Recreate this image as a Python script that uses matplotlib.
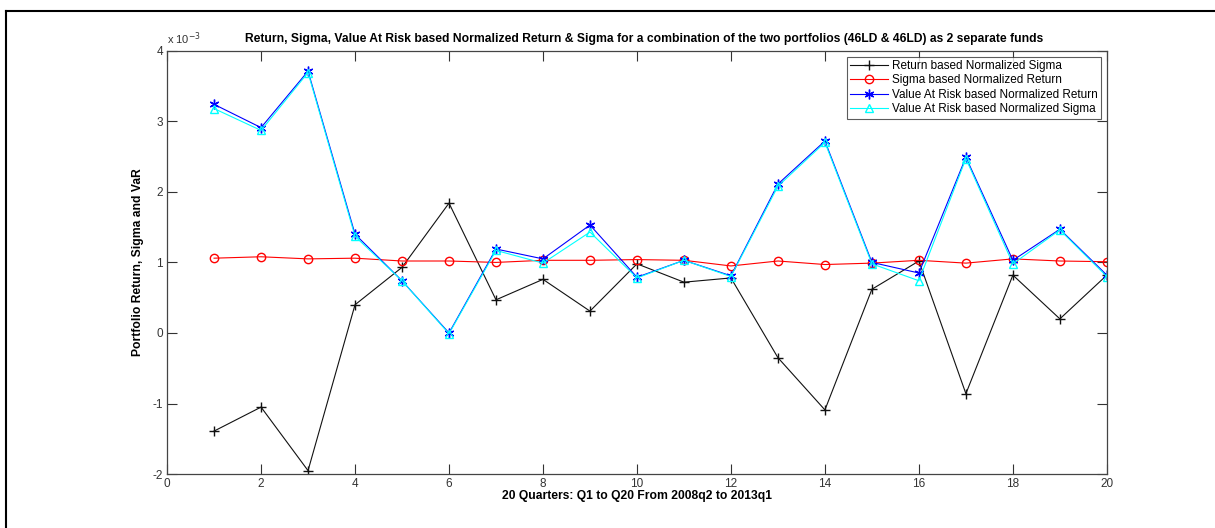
import numpy as np
import matplotlib.pyplot as plt
from matplotlib.lines import Line2D
from matplotlib.ticker import FuncFormatter

quarters = np.arange(1, 21)

# values in units of 1e-3
ret_norm_sigma = [-1.39, -1.05, -1.95, 0.40, 0.93, 1.84, 0.47, 0.76, 0.31, 0.98,
                  0.72, 0.78, -0.35, -1.09, 0.62, 1.02, -0.86, 0.82, 0.20, 0.82]
sigma_norm_ret = [1.06, 1.08, 1.05, 1.06, 1.02, 1.02, 1.00, 1.03, 1.03, 1.04,
                  1.03, 0.95, 1.02, 0.97, 0.99, 1.03, 0.99, 1.05, 1.02, 1.01]
var_norm_ret = [3.24, 2.91, 3.71, 1.40, 0.74, 0.00, 1.19, 1.05, 1.53, 0.79,
                1.03, 0.81, 2.11, 2.72, 1.00, 0.85, 2.49, 1.03, 1.47, 0.82]
var_norm_sigma = [3.18, 2.87, 3.69, 1.37, 0.74, -0.01, 1.17, 0.99, 1.43, 0.78,
                  1.03, 0.80, 2.08, 2.70, 0.98, 0.74, 2.47, 0.98, 1.46, 0.80]

plt.rcParams['font.family'] = ['Liberation Sans', 'DejaVu Sans']

fig = plt.figure(figsize=(12.15, 5.28), dpi=100)
ax = fig.add_axes([0.1375, 0.102, 0.7735, 0.802])

s = 1e-3
asterisk = (6, 2, 0)
ax.plot(quarters, np.array(ret_norm_sigma) * s, color='#111111', marker='+',
        markersize=7, linewidth=0.8, label='Return based Normalized Sigma')
ax.plot(quarters, np.array(sigma_norm_ret) * s, color='red', marker='o',
        markerfacecolor='none', markersize=6, linewidth=0.8,
        label='Sigma based Normalized Return')
ax.plot(quarters, np.array(var_norm_ret) * s, color='blue', marker=asterisk,
        markersize=7, markeredgewidth=1.0, linewidth=0.8,
        label='Value At Risk based Normalized Return')
ax.plot(quarters, np.array(var_norm_sigma) * s, color='cyan', marker='^',
        markerfacecolor='none', markersize=6, linewidth=0.8,
        label='Value At Risk based Normalized Sigma')

ax.set_xlim(0, 20)
ax.set_ylim(-2e-3, 4e-3)
ax.set_xticks(np.arange(0, 21, 2))
ax.set_yticks(np.arange(-2, 5) * s)
ax.yaxis.set_major_formatter(FuncFormatter(lambda v, p: '%g' % round(v * 1e3, 6)))
ax.tick_params(direction='in', length=7, width=0.8, top=True, right=True,
               labelsize=8.5, colors='#333333', pad=3)
for sp in ax.spines.values():
    sp.set_color('#444444')
    sp.set_linewidth(0.9)

ax.text(0, 1.008, r'x 10$^{-3}$', transform=ax.transAxes, fontsize=8,
        color='#333333', va='bottom', ha='left')

ax.set_title('Return, Sigma, Value At Risk based Normalized Return & Sigma for a '
             'combination of the two portfolios (46LD & 46LD) as 2 separate funds',
             fontsize=8.7, fontweight='bold', pad=6, x=0.508)
ax.set_xlabel('20 Quarters: Q1 to Q20 From 2008q2 to 2013q1', fontsize=8.7,
              fontweight='bold', labelpad=0)
ax.set_ylabel('Portfolio Return, Sigma and VaR', fontsize=8.7, fontweight='bold',
              labelpad=6)

leg = ax.legend(loc='upper right', fontsize=8.5, frameon=True, fancybox=False,
                borderpad=0.3, labelspacing=0.2, handlelength=3.2,
                handletextpad=0.3, borderaxespad=0.5)
leg.get_frame().set_edgecolor('#333333')
leg.get_frame().set_linewidth(0.8)

# outer frame lines (left and top)
fig.add_artist(Line2D([0.005, 0.005], [0, 0.979], transform=fig.transFigure,
                      color='black', linewidth=1.5))
fig.add_artist(Line2D([0.005, 1.0], [0.979, 0.979], transform=fig.transFigure,
                      color='black', linewidth=1.5))

fig.savefig('out.png', dpi=100)
